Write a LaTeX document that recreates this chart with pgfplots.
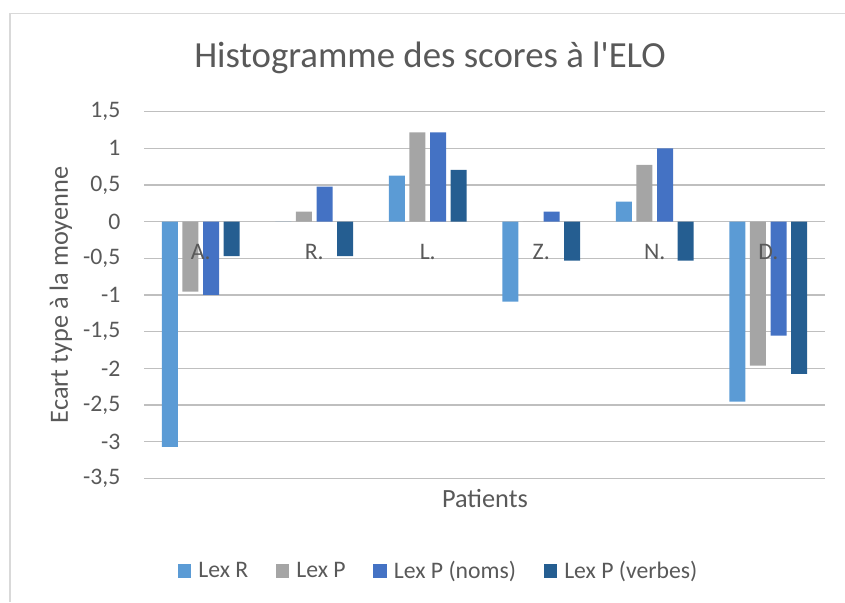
\documentclass[border=0pt]{standalone}
\usepackage{fontspec}
\setmainfont{Carlito}[Ligatures=TeXOff]
\usepackage{pgfplots}
\pgfplotsset{compat=1.18}
\definecolor{lexr}{HTML}{5B9BD5}
\definecolor{lexp}{HTML}{A5A5A5}
\definecolor{lexpn}{HTML}{4472C4}
\definecolor{lexpv}{HTML}{255E91}
\definecolor{grid}{HTML}{D9D9D9}
\definecolor{txt}{HTML}{595959}
\begin{document}
\begin{tikzpicture}[x=1pt,y=1pt]
\useasboundingbox (0,0) rectangle (845,602);
\draw[grid, line width=1.2pt] (10,0) -- (10,588.7) -- (845,588.7);
\begin{axis}[
  at={(144pt,123.7pt)}, anchor=south west,
  scale only axis, width=681pt, height=366.6pt,
  xmin=-0.5, xmax=5.5, ymin=-3.5, ymax=1.5,
  ytick={-3.5,-3,...,1.5}, xtick=\empty,
  ymajorgrids, grid style={grid, line width=1.2pt},
  axis line style={draw=none},
  major tick length=0pt,
  /pgf/number format/.cd, use comma, fixed, precision=1, assume math mode=true,
  /pgfplots/.cd,
  yticklabel style={font=\fontsize{23.7}{28}\selectfont, text=txt, anchor=east, inner sep=0pt, xshift=-23.5pt},
  ybar, bar width=16pt,
  title={Histogramme des scores à l'ELO},
  title style={at={(axis description cs:0.42,1.105)}, anchor=base, font=\fontsize{36.8}{44}\selectfont, text=txt},
  xlabel={Patients},
  xlabel style={at={(axis description cs:0.5007,-0.080)}, anchor=base, font=\fontsize{26.3}{31}\selectfont, text=txt},
  ylabel={Ecart type à la moyenne},
  ylabel style={at={(axis description cs:-0.1219,0.5)}, anchor=center, rotate=0, font=\fontsize{26.3}{31}\selectfont, text=txt},
  legend columns=4,
  legend style={at={(axis description cs:0.431,-0.252)}, anchor=center, draw=none, fill=none,
    font=\fontsize{23.7}{28}\selectfont, text=txt, inner sep=0pt,
    nodes={inner sep=0pt},
    /tikz/every odd column/.append style={column sep=7pt},
    /tikz/every even column/.append style={column sep=27.5pt}},
  legend image code/.code={\fill[#1] (0pt,-6.85pt) rectangle (13.7pt,6.85pt);},
]
\addplot[fill=lexr, draw=none, bar shift=-30.9pt] coordinates {(0,-3.07) (1,0) (2,0.627) (3,-1.09) (4,0.273) (5,-2.455)};
\addplot[fill=lexp, draw=none, bar shift=-10.3pt] coordinates {(0,-0.955) (1,0.136) (2,1.218) (3,0) (4,0.773) (5,-1.964)};
\addplot[fill=lexpn, draw=none, bar shift=10.3pt] coordinates {(0,-1.0) (1,0.477) (2,1.218) (3,0.136) (4,1.0) (5,-1.555)};
\addplot[fill=lexpv, draw=none, bar shift=30.9pt] coordinates {(0,-0.47) (1,-0.47) (2,0.705) (3,-0.53) (4,-0.53) (5,-2.077)};
\legend{Lex R, Lex P, Lex P (noms), Lex P (verbes)}
\foreach \i/\n in {0/A.,1/R.,2/L.,3/Z.,4/N.,5/D.}{
  \edef\tmp{\noexpand\node[anchor=base, yshift=-38.3pt, text=txt, font=\noexpand\fontsize{23.7}{28}\noexpand\selectfont, inner sep=0pt] at (axis cs:\i,0) {\n};}
  \tmp
}
\end{axis}
\end{tikzpicture}
\end{document}
